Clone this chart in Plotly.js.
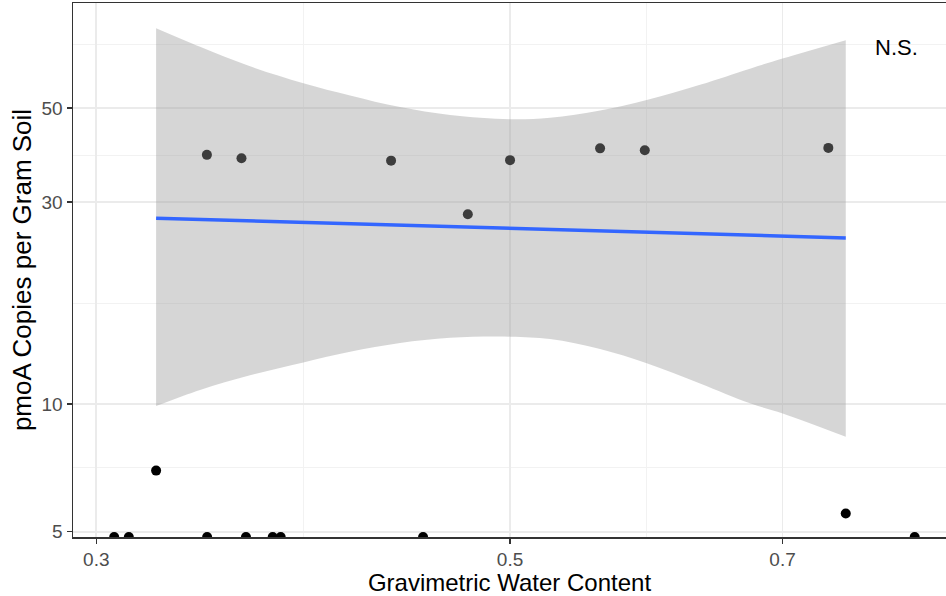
<!DOCTYPE html>
<html>
<head>
<meta charset="utf-8">
<script src="https://cdn.plot.ly/plotly-3.0.1.min.js"></script>
<style>html,body{margin:0;padding:0;background:#fff;overflow:hidden;}</style>
</head>
<body>
<div id="chart" style="width:946px;height:596px;"></div>
<script>
// Samples with zero copies (drawn at the bottom edge of the log axis, like -Inf)
const zeroX = [0.3067, 0.3123, 0.3440, 0.3609, 0.3730, 0.3767, 0.4491, 0.8240];
// Samples with detected copies
const ptX = [0.3230, 0.3439, 0.3589, 0.4317, 0.4746, 0.5000, 0.5588, 0.5905, 0.7407, 0.7568];
const ptY = [6.97, 38.8, 38.1, 37.6, 28.1, 37.7, 40.2, 39.8, 40.3, 5.52];
// Linear fit (log-log) and its confidence band
const fitX = [0.3230, 0.5000, 0.7568];
const fitY = [27.5, 26.0, 24.7];
const bandX = [0.3230, 0.3410, 0.3627, 0.3874, 0.4104, 0.4365, 0.4643, 0.5000, 0.5253, 0.5588, 0.5919, 0.6322, 0.6724, 0.7007, 0.7568];
const bandUpper = [77.2, 69.8, 62.8, 57.3, 53.6, 50.3, 48.2, 47.1, 47.5, 49.4, 52.3, 56.8, 62.0, 65.6, 72.4];
const bandLower = [9.90, 10.81, 11.70, 12.55, 13.30, 13.95, 14.35, 14.44, 14.25, 13.50, 12.50, 11.20, 10.05, 9.50, 8.38];
// Axes
const xTicks = [0.3, 0.5, 0.7];
const xTickText = ["0.3", "0.5", "0.7"];
const xMinor = [0.3873, 0.5916];
const yTicks = [5, 10, 30, 50];
const yTickText = ["5", "10", "30", "50"];
const yMinor = [7.071, 17.32, 38.73, 70.71];
const xLimits = [0.2915, 0.8565];
const yLimits = [4.858, 88.6];
const label = "N.S.";
const labelPos = [0.806, 69.4];

const zeroY = zeroX.map(() => yLimits[0]);

const traces = [
  {x: zeroX, y: zeroY, type: 'scatter', mode: 'markers', cliponaxis: true,
   marker: {color: '#000000', size: 10}, hoverinfo: 'skip', showlegend: false},
  {x: ptX, y: ptY, type: 'scatter', mode: 'markers', cliponaxis: true,
   marker: {color: '#000000', size: 10}, showlegend: false},
  {x: bandX, y: bandLower, type: 'scatter', mode: 'lines',
   line: {width: 0, color: 'rgba(0,0,0,0)', shape: 'spline', smoothing: 1}, hoverinfo: 'skip', showlegend: false},
  {x: bandX, y: bandUpper, type: 'scatter', mode: 'lines', fill: 'tonexty', fillcolor: 'rgba(153,153,153,0.4)',
   line: {width: 0, color: 'rgba(0,0,0,0)', shape: 'spline', smoothing: 1}, hoverinfo: 'skip', showlegend: false},
  {x: fitX, y: fitY, type: 'scatter', mode: 'lines',
   line: {color: '#3366FF', width: 3.5}, showlegend: false}
];

const layout = {
  width: 946, height: 596,
  margin: {l: 73, r: 0, t: 3, b: 59},
  paper_bgcolor: '#ffffff', plot_bgcolor: '#ffffff',
  font: {family: '"Liberation Sans", Arial, sans-serif', color: '#000000'},
  showlegend: false,
  xaxis: {
    type: 'log', range: [Math.log10(xLimits[0]), Math.log10(xLimits[1])],
    tickmode: 'array', tickvals: xTicks, ticktext: xTickText,
    ticks: 'outside', ticklen: 5, tickwidth: 1.5, tickcolor: '#333333',
    tickfont: {size: 19, color: '#4d4d4d'},
    showgrid: true, gridcolor: '#ebebeb', gridwidth: 1.6,
    minor: {tickmode: 'array', tickvals: xMinor, showgrid: true, gridcolor: '#f2f2f2', gridwidth: 1, ticks: ''},
    showline: true, linecolor: '#333333', linewidth: 1.5, mirror: true,
    zeroline: false,
    title: {text: 'Gravimetric Water Content', font: {size: 24, color: '#000000'}, standoff: 3}
  },
  yaxis: {
    type: 'log', range: [Math.log10(yLimits[0]), Math.log10(yLimits[1])],
    tickmode: 'array', tickvals: yTicks, ticktext: yTickText,
    ticks: 'outside', ticklen: 5, tickwidth: 1.5, tickcolor: '#333333',
    tickfont: {size: 19, color: '#4d4d4d'},
    showgrid: true, gridcolor: '#ebebeb', gridwidth: 1.6,
    minor: {tickmode: 'array', tickvals: yMinor, showgrid: true, gridcolor: '#f2f2f2', gridwidth: 1, ticks: ''},
    showline: true, linecolor: '#333333', linewidth: 1.5, mirror: false,
    zeroline: false,
    title: {text: 'pmoA Copies per Gram Soil', font: {size: 26, color: '#000000'}, standoff: 2}
  },
  annotations: [{
    x: Math.log10(labelPos[0]), y: Math.log10(labelPos[1]), xref: 'x', yref: 'y',
    text: label, showarrow: false, font: {size: 22, color: '#000000'}
  }]
};

Plotly.newPlot('chart', traces, layout, {displayModeBar: false, staticPlot: true});
</script>
</body>
</html>
